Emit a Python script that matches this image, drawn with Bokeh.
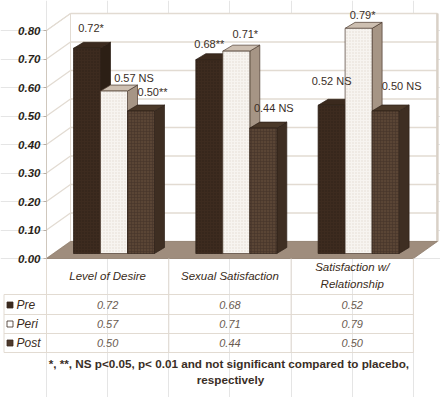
from bokeh.plotting import figure
from bokeh.models import LinearAxis, FixedTicker, NumeralTickFormatter, Range1d
from bokeh.core.properties import value
from bokeh.embed import file_html
from bokeh.resources import INLINE

# ---------------- data ----------------
categories = ["Level of Desire", "Sexual Satisfaction", "Satisfaction w/\nRelationship"]
series = ["Pre", "Peri", "Post"]
pre = [0.72, 0.68, 0.52]
peri = [0.57, 0.71, 0.79]
post = [0.50, 0.44, 0.50]
pre_sig = ["*", "**", "NS"]
peri_sig = ["NS", "*", "*"]
post_sig = ["**", "NS", "NS"]
y_ticks = [0.0, 0.1, 0.2, 0.3, 0.4, 0.5, 0.6, 0.7, 0.8]
footnote = ["*, **, NS  p<0.05, p< 0.01 and not significant compared to placebo,",
            "respectively"]

values = [pre, peri, post]
sigs = [pre_sig, peri_sig, post_sig]

# ---------------- layout / style ----------------
FONT = "Liberation Sans"
W, H = 440, 397
U = 122.3          # px per category
V = 285.0          # px per value unit
X0PX, Y0PX = 46, 258   # screen position of the (0, 0) corner of the chart's front plane


def rx(px):
    return (px - X0PX) / U


def ry(px):
    return (Y0PX - px) / V


WALL_DX, WALL_DY = 24 / U, 17 / V
BAR_X0, BAR_W = 27 / U, 27 / U
BAR_Y0 = 5 / V
BAR_DX, BAR_DY = 10 / U, 6 / V
YMAX = y_ticks[-1]
NCAT = len(categories)

front_fill = ["#3d2b1f", "#f7f4f0", "#5a4535"]
hatch_col = ["#2b1e14", "#ddd5cc", "#47362a"]
hatch_pat = ["dot", "dot", "cross"]
top_fill = ["#3b2a1e", "#cdbfb1", "#4b3929"]
side_fill = ["#2c1f15", "#a69585", "#3e2e22"]
edge_col = ["#2a1d14", "#4a3a2e", "#2e2118"]
sq_fill = ["#3a2a1e", "#ffffff", "#4e3a2c"]

# label nudges in px (dx right, dy up) relative to bar front-top centre
label_dx = [[4, 0, 0], [20, 9, 4], [11.5, 10.5, 16]]
label_dy = [[20, 16, 24], [13, 17, 13], [19, 20, 25]]

GRID = "#e2dbd2"
TXT = "#3a2e26"

p = figure(width=W, height=H, output_backend="svg", toolbar_location=None,
           x_axis_location=None, y_axis_location=None,
           x_range=Range1d(rx(0), rx(W)), y_range=Range1d(ry(H), ry(0)),
           min_border=0)
p.outline_line_color = None
p.background_fill_color = "white"
p.border_fill_color = "white"

yax = LinearAxis(ticker=FixedTicker(ticks=y_ticks),
                 formatter=NumeralTickFormatter(format="0.00"),
                 bounds=(0, YMAX), fixed_location=0)
yax.axis_line_color = "#cfc7bd"
yax.major_tick_out = 3
yax.major_tick_in = 0
yax.minor_tick_out = 0
yax.minor_tick_in = 0
yax.major_tick_line_color = "#b8aea4"
yax.major_label_standoff = 3
yax.major_label_text_font = FONT
yax.major_label_text_font_style = "bold italic"
yax.major_label_text_font_size = "11.5px"
yax.major_label_text_color = "#2a1f18"
p.add_layout(yax, "left")

# back wall
p.quad(left=WALL_DX, right=NCAT + WALL_DX, bottom=WALL_DY, top=YMAX + WALL_DY,
       fill_color="white", line_color=GRID, line_width=1)
p.segment(x0=[WALL_DX] * len(y_ticks), x1=[NCAT + WALL_DX] * len(y_ticks),
          y0=[t + WALL_DY for t in y_ticks], y1=[t + WALL_DY for t in y_ticks],
          line_color=GRID, line_width=1.3)
p.segment(x0=[NCAT + WALL_DX], x1=[NCAT + WALL_DX], y0=[WALL_DY], y1=[YMAX + WALL_DY],
          line_color="#d9d1c7", line_width=2.5)
# left wall
p.patch(x=[0, 0, WALL_DX, WALL_DX], y=[0, YMAX, YMAX + WALL_DY, WALL_DY],
        fill_color="white", line_color=GRID, line_width=1)
p.segment(x0=[0] * len(y_ticks), x1=[WALL_DX] * len(y_ticks),
          y0=y_ticks, y1=[t + WALL_DY for t in y_ticks],
          line_color=GRID, line_width=1.3)
# floor
p.patch(x=[0, NCAT, NCAT + WALL_DX, WALL_DX], y=[0, 0, WALL_DY, WALL_DY],
        fill_color="#9f8d7d", line_color="#8e7c6c", line_width=0.8)

# bars
for s in range(len(series)):
    lefts, rights, tops = [], [], []
    top_xs, top_ys, side_xs, side_ys = [], [], [], []
    for i in range(NCAT):
        v = values[s][i]
        x0 = i + BAR_X0 + s * BAR_W
        x1 = x0 + BAR_W
        y0 = BAR_Y0
        y1 = BAR_Y0 + v
        lefts.append(x0); rights.append(x1); tops.append(y1)
        top_xs.append([x0, x1, x1 + BAR_DX, x0 + BAR_DX])
        top_ys.append([y1, y1, y1 + BAR_DY, y1 + BAR_DY])
        side_xs.append([x1, x1 + BAR_DX, x1 + BAR_DX, x1])
        side_ys.append([y0, y0 + BAR_DY, y1 + BAR_DY, y1])
    p.patches(xs=side_xs, ys=side_ys, fill_color=side_fill[s],
              line_color=edge_col[s], line_width=0.7)
    p.patches(xs=top_xs, ys=top_ys, fill_color=top_fill[s],
              line_color=edge_col[s], line_width=0.7)
    p.quad(left=lefts, right=rights, bottom=[BAR_Y0] * NCAT, top=tops,
           fill_color=front_fill[s], line_color=edge_col[s], line_width=0.7,
           hatch_pattern=hatch_pat[s], hatch_color=hatch_col[s],
           hatch_scale=3, hatch_weight=0.8, hatch_alpha=0.8)

# data labels
lx, ly, lt = [], [], []
for s in range(len(series)):
    for i in range(NCAT):
        v = values[s][i]
        sig = sigs[s][i]
        cx = i + BAR_X0 + s * BAR_W + BAR_W / 2
        lx.append(cx + label_dx[s][i] / U)
        ly.append(BAR_Y0 + v + label_dy[s][i] / V)
        lt.append(f"{v:.2f}" + (" NS" if sig == "NS" else sig))
p.text(x=lx, y=ly, text=lt, text_align="center", text_baseline="middle",
       text_font=value(FONT), text_font_size="11px", text_color=TXT)

# ---------------- data table ----------------
col_x = [i for i in range(NCAT + 1)]
left_x = rx(3.5)
line_px = [294, 314, 333, 352]
row_px = [304.5, 323.5, 342.5]
# header vertical lines (from floor edge down to first row line)
p.segment(x0=col_x, x1=col_x, y0=[0] * len(col_x), y1=[ry(294)] * len(col_x),
          line_color=GRID, line_width=1)
# body lines
p.segment(x0=[left_x] * len(line_px), x1=[NCAT] * len(line_px),
          y0=[ry(v) for v in line_px], y1=[ry(v) for v in line_px],
          line_color=GRID, line_width=1)
p.segment(x0=[left_x] + col_x, x1=[left_x] + col_x,
          y0=[ry(294)] * (len(col_x) + 1), y1=[ry(352)] * (len(col_x) + 1),
          line_color=GRID, line_width=1)

p.text(x=[i + 0.5 for i in range(NCAT)], y=[ry(275)] * NCAT, text=categories,
       text_align="center", text_baseline="middle", text_line_height=1.38,
       text_font=value(FONT), text_font_style="italic", text_font_size="11.5px",
       text_color="#3a2b20")

p.scatter(x=[rx(9.5)] * 3, y=[ry(v) for v in row_px], marker="square", size=6,
          fill_color=sq_fill, line_color="#3a2a1e", line_width=0.8)
p.text(x=[rx(16)] * 3, y=[ry(v) for v in row_px], text=series, text_align="left",
       text_baseline="middle", text_font=value(FONT), text_font_style="italic",
       text_font_size="12px", text_color="#3a2b20")

tx, ty, tt = [], [], []
for s in range(len(series)):
    for i in range(NCAT):
        tx.append(i + 0.5); ty.append(ry(row_px[s])); tt.append(f"{values[s][i]:.2f}")
p.text(x=tx, y=ty, text=tt, text_align="center", text_baseline="middle",
       text_font=value(FONT), text_font_style="italic", text_font_size="11px",
       text_color="#6a5b50")

p.text(x=[rx(230)] * 2, y=[ry(363), ry(379)], text=footnote, text_align="center",
       text_baseline="middle", text_font=value(FONT), text_font_style="bold",
       text_font_size="11.7px", text_color="#3a2e26")

open("out.html", "w").write(file_html(p, INLINE))
